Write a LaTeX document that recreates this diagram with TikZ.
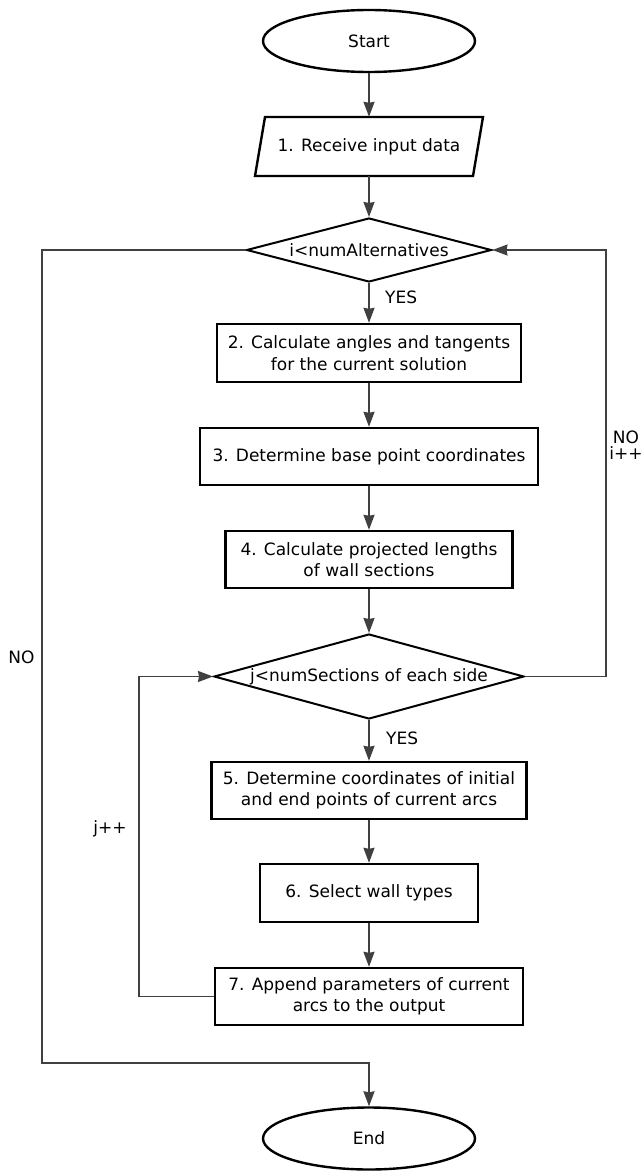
\documentclass[tikz,border=0pt]{standalone}
\usepackage{fontspec}
\setmainfont{DejaVu Sans}
\usetikzlibrary{shapes.geometric,arrows.meta}
\begin{document}
\begin{tikzpicture}[x=1pt,y=-1pt,
  font=\fontsize{17}{21.5}\selectfont,
  box/.style={draw=black,line width=2.4pt,rectangle,inner sep=0pt,align=center},
  term/.style={draw=black,line width=2.4pt,ellipse,minimum width=212pt,minimum height=62pt,inner sep=0pt},
  dia/.style={draw=black,line width=2pt,diamond,inner sep=0pt},
  conn/.style={draw=black!75,line width=1.5pt},
  arr/.style={conn,-{Stealth[length=15pt,width=11pt,inset=1pt]}},
  lbl/.style={inner sep=0pt}
]
\useasboundingbox (0,0) rectangle (644,1172);
\fill[white] (0,0) rectangle (644,1172);

\node[term] (start) at (369,41) {Start};

\node[minimum width=218pt,minimum height=59pt,inner sep=0pt] (inp) at (369,146.5) {1. Receive input data};
\draw[line width=2.4pt,line join=miter] (265,117) -- (483,117) -- (473,176) -- (255,176) -- cycle;

\node[dia,minimum width=245pt,minimum height=64pt] (d1) at (369,250) {};
\node[lbl] (d1t) at (369,250) {i<numAlternatives};

\node[box,minimum width=304pt,minimum height=58pt] (b2) at (369,353) {2. Calculate angles and tangents\\for the current solution};
\node[box,minimum width=338pt,minimum height=57pt] (b3) at (369,456.5) {3. Determine base point coordinates};
\node[box,minimum width=287pt,minimum height=57pt] (b4) at (369,559.5) {4. Calculate projected lengths\\of wall sections};

\node[dia,minimum width=310pt,minimum height=85pt] (d2) at (369,676.5) {};
\node[lbl] (d2t) at (369,676.5) {j<numSections of each side};

\node[box,minimum width=315pt,minimum height=57pt] (b5) at (369,790.5) {5. Determine coordinates of initial\\and end points of current arcs};
\node[box,minimum width=218pt,minimum height=58pt] (b6) at (369,893) {6. Select wall types};
\node[box,minimum width=308pt,minimum height=57pt] (b7) at (369,996.5) {7. Append parameters of current\\arcs to the output};

\node[term] (end) at (369,1138.5) {End};

% labels
\node[lbl,anchor=west] (yes1) at (385,297) {YES};
\node[lbl,anchor=west] (yes2) at (386,738) {YES};
\node[lbl,align=center,font=\fontsize{17}{16}\selectfont] (noi) at (626,445) {NO\\i++};
\node[lbl] (no) at (21.5,657) {NO};
\node[lbl] (jpp) at (110,829) {j++};

\coordinate (r1) at (606,676.5);
\coordinate (r2) at (606,250);
\coordinate (l1) at (42,250);
\coordinate (l2) at (42,1063);
\coordinate (l3) at (369,1063);
\coordinate (j1) at (139,996.5);
\coordinate (j2) at (139,676.5);

\draw[arr] (start) -- (inp);
\draw[arr] (inp) -- (d1.north);
\draw[arr] (d1.south) -- (b2);
\draw[arr] (b2) -- (b3);
\draw[arr] (b3) -- (b4);
\draw[arr] (b4) -- (d2.north);
\draw[arr] (d2.south) -- (b5);
\draw[arr] (b5) -- (b6);
\draw[arr] (b6) -- (b7);
\draw[arr] (d2.east) -- (r1) -- (r2) -- (d1.east);
\draw[arr] (d1.west) -- (l1) -- (l2) -- (l3) -- (end.north);
\draw[arr] (b7.west) -- (j1) -- (j2) -- (d2.west);
\end{tikzpicture}
\end{document}
